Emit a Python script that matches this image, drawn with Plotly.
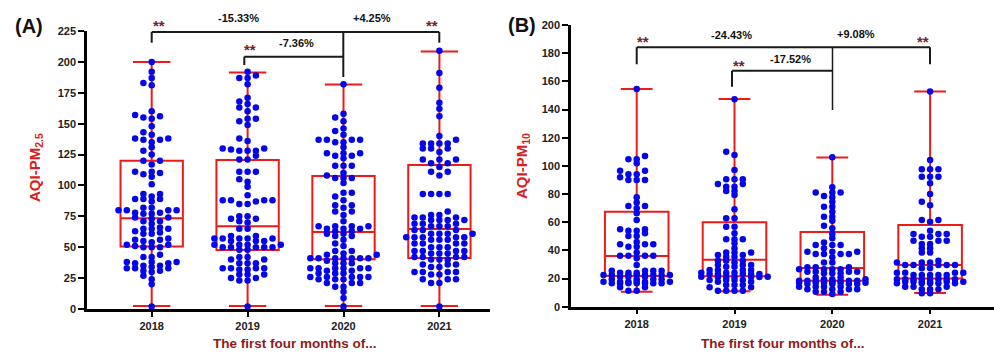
import plotly.graph_objects as go

# ---------------- data ----------------
years = ["2018", "2019", "2020", "2021"]

# Panel A: AQI-PM2.5
pm25_2018 = [200, 192, 187, 183, 181, 160, 157, 156, 155, 154, 148, 143, 141, 138, 138, 137, 137, 135, 131, 128, 125,
             120, 120, 117, 111, 111, 110, 109, 107, 101, 93, 93, 91, 89, 89, 89, 87, 82, 82, 80, 80, 80, 80, 78, 78,
             77, 77, 74, 74, 73, 71, 71, 69, 66, 65, 65, 65, 63, 62, 61, 61, 57, 56, 56, 55, 54, 52, 52, 51, 50, 50,
             50, 44, 42, 42, 38, 38, 38, 37, 37, 35, 35, 34, 33, 33, 33, 31, 31, 30, 27, 24, 20, 2]
pm25_2019 = [192, 189, 187, 187, 182, 171, 168, 166, 163, 163, 160, 154, 154, 152, 149, 138, 136, 130, 130, 129, 128,
             128, 128, 124, 121, 121, 111, 111, 111, 105, 103, 99, 92, 88, 88, 88, 88, 87, 85, 85, 75, 75, 73, 73, 71,
             70, 65, 65, 59, 59, 57, 57, 57, 57, 57, 55, 55, 55, 52, 52, 52, 52, 50, 50, 50, 50, 50, 48, 48, 42, 42,
             40, 40, 37, 37, 37, 33, 33, 33, 33, 32, 32, 28, 28, 28, 25, 25, 23, 23, 2]
pm25_2020 = [182, 158, 155, 152, 146, 144, 141, 137, 137, 137, 137, 135, 135, 131, 126, 126, 126, 124, 124, 122, 116,
             116, 116, 110, 108, 106, 106, 106, 102, 94, 94, 91, 88, 84, 84, 82, 79, 79, 76, 71, 67, 67, 67, 67, 65,
             65, 65, 63, 63, 61, 61, 59, 59, 56, 53, 51, 47, 47, 45, 44, 44, 41, 41, 41, 41, 41, 41, 41, 39, 37, 37,
             37, 33, 33, 33, 33, 33, 33, 31, 31, 29, 29, 29, 26, 26, 26, 26, 26, 24, 24, 24, 21, 21, 21, 18, 18, 14,
             9, 2]
pm25_2021 = [209, 191, 179, 167, 162, 156, 140, 137, 134, 134, 134, 134, 130, 130, 130, 127, 121, 121, 121, 118, 118,
             115, 111, 111, 108, 93, 93, 93, 93, 79, 76, 76, 74, 74, 74, 72, 72, 72, 72, 69, 69, 69, 67, 67, 67, 64,
             64, 64, 61, 61, 61, 61, 58, 58, 58, 58, 58, 56, 56, 56, 53, 53, 53, 53, 50, 50, 50, 47, 47, 47, 47, 45,
             45, 45, 42, 42, 42, 42, 40, 40, 40, 36, 36, 36, 34, 34, 30, 30, 30, 30, 28, 28, 24, 24, 24, 21, 21, 2]

pm25_q1 = [50.5, 47.8, 40.2, 41.3]
pm25_median = [73.5, 67.0, 62.3, 64.8]
pm25_q3 = [120.0, 120.5, 107.7, 116.6]
pm25_min = [2.4, 2.4, 2.4, 2.4]
pm25_max = [200, 191.5, 181.6, 208.4]

# Panel B: AQI-PM10
pm10_2018 = [154.6, 107, 104.7, 104.7, 101.8, 96.6, 96.6, 94, 94, 91.9, 90, 90, 90, 77.7, 73.9, 71.5, 71.5, 69.9,
             66.3, 61.6, 55, 55, 54, 54, 52.1, 50.2, 50.2, 46, 44.3, 44.3, 44.3, 42.6, 42.6, 38.4, 36.2, 36.2, 36.2,
             36.2, 34.4, 29.6, 25.6, 25.6, 25.6, 25.6, 24.1, 24.1, 24.1, 22.5, 22.5, 22.5, 22.5, 22.5, 22.5, 22.5,
             22.5, 21.3, 21.3, 21.3, 19.5, 19.5, 19.5, 19.5, 17.8, 17.8, 17.8, 17.8, 17.8, 17.8, 16.6, 16.6, 16.6,
             16.6, 16.6, 16.6, 16.6, 13.8, 13.8, 11.4, 11.4]
pm10_2019 = [147.3, 110, 107.7, 97, 90.5, 90.5, 90.5, 87.1, 87.1, 85.2, 85.2, 82.2, 82.2, 79.3, 69.2, 62.8, 62.8,
             56.8, 56.8, 52.1, 47.9, 47.9, 47.9, 45, 41.5, 38.4, 38.4, 38.4, 36.7, 36.7, 35.5, 35.5, 32.7, 32.7, 32.7,
             31.3, 29.6, 29.6, 29.6, 28.4, 28.4, 26.1, 26.1, 26.1, 26.1, 24.1, 24.1, 24.1, 23.2, 23.2, 23.2, 23.2,
             23.2, 21.3, 21.3, 21.3, 21.3, 21.0, 21.0, 21.0, 19, 19, 19, 19, 17.8, 17.8, 15.4, 15.4, 15.4, 13.8, 13.8,
             11.4, 11.4, 11.4, 11.4]
pm10_2020 = [106.1, 84.8, 81, 81, 81, 78.6, 77.7, 74.6, 71, 71, 67.5, 63.9, 63.9, 61.1, 57.5, 55.7, 51.6, 48.6, 45.5,
             43.8, 43.8, 43.8, 41.5, 39.1, 39.1, 39.1, 37.4, 37.4, 37.4, 37.4, 35.1, 31.3, 31.3, 28, 28, 28, 26.6,
             26.6, 26.6, 26.6, 24.9, 24.9, 24.9, 24.9, 23.7, 23.7, 23.7, 20.9, 20.9, 19.5, 19.5, 19.5, 18.5, 18.5,
             18.5, 18.5, 18.5, 18.5, 18.5, 18.5, 17, 17, 17, 17, 17, 17, 16.1, 16.1, 16.1, 16.1, 14.2, 14.2, 14.2,
             14.2, 12.4, 12.4, 12.4, 12.4, 10.7, 10.7, 10.7, 9]
pm10_2021 = [152.7, 104.2, 97.6, 97.6, 97.6, 92.3, 92.3, 92.3, 87.6, 80, 74.6, 72, 61.6, 61.6, 60.4, 54, 51.6, 51.6,
             51.6, 49.7, 49.7, 46.9, 46.9, 46.9, 44.5, 44.5, 41.5, 41.5, 38.4, 38.4, 32.7, 31.3, 31.3, 31.3, 29.6,
             29.6, 29.6, 29.6, 29.6, 27.3, 27.3, 24.1, 24.1, 24.1, 24.1, 22.5, 22.5, 22.5, 22.5, 22.5, 19.5, 19.5,
             19.5, 19.5, 19.5, 19.5, 19.5, 19.5, 17.8, 17.8, 17.8, 17.8, 17.8, 17.8, 16.6, 16.6, 16.6, 16.6, 16.6,
             14.2, 14.2, 14.2, 12.4, 12.4, 12.4, 9.5, 9.5]

pm10_q1 = [21.8, 21.6, 18.5, 20.0]
pm10_median = [36.0, 33.4, 27.5, 29.6]
pm10_q3 = [67.5, 60.0, 53.0, 58.0]
pm10_min = [10.7, 11.0, 8.5, 9.7]
pm10_max = [154.6, 147.5, 106.0, 152.7]

# ---------------- style ----------------
W, H = 994, 353
BOX_RED = "#ee1a1a"
DOT_BLUE = "#0505ea"
STAR = "#7a2030"
YT_RED = "#d81e1e"
XT_RED = "#8e1b1b"
FONT = "Arial, Liberation Sans, sans-serif"

# pixel geometry of panels (plot areas)
A = dict(x0=87, x1=490, ytop=31, ybot=309, ymax=225, cat0=151.7, step=95.9, dy=4.6, maxc=4)
B = dict(x0=571, x1=994, ytop=25, ybot=306.7, ymax=200, cat0=636.7, step=97.8, dy=3.9, maxc=4)
for P in (A, B):
    P["ppu"] = (P["ybot"] - P["ytop"]) / P["ymax"]
    P["xr"] = [(P["x0"] - P["cat0"]) / P["step"], (P["x1"] - P["cat0"]) / P["step"]]


def swarm(vals, ppu, step, min_dy, maxc, col_px=8.3):
    order = sorted(range(len(vals)), key=lambda i: vals[i])
    placed = {}
    offs = [0.0] * len(vals)
    cands = [0]
    for j in range(1, maxc + 1):
        cands += [-j, j]
    for i in order:
        y = vals[i] * ppu
        best, best_gap = None, -1
        for c in cands:
            gap = min([abs(y - yy) for yy in placed.get(c, [])] + [99])
            if gap >= min_dy:
                best = c
                break
            if gap > best_gap:
                best, best_gap = c, gap
        placed.setdefault(best, []).append(y)
        offs[i] = best * col_px / step
    return offs


fig = go.Figure()

panels = [
    (A, "x", "y", [pm25_2018, pm25_2019, pm25_2020, pm25_2021], pm25_q1, pm25_median, pm25_q3, pm25_min, pm25_max, 0.6),
    (B, "x2", "y2", [pm10_2018, pm10_2019, pm10_2020, pm10_2021], pm10_q1, pm10_median, pm10_q3, pm10_min, pm10_max, 0.5),
]

for P, xa, ya, groups, q1, med, q3, lo, hi, ww in panels:
    fig.add_trace(go.Box(
        x=[0, 1, 2, 3], q1=q1, median=med, q3=q3, lowerfence=lo, upperfence=hi,
        width=0.65, whiskerwidth=ww, boxpoints=False,
        line=dict(color=BOX_RED, width=2), fillcolor="rgba(0,0,0,0)",
        xaxis=xa, yaxis=ya, showlegend=False, hoverinfo="skip",
    ))
    for gi, vals in enumerate(groups):
        offs = swarm(vals, P["ppu"], P["step"], P["dy"], P["maxc"])
        fig.add_trace(go.Scatter(
            x=[gi + o for o in offs], y=vals, mode="markers",
            marker=dict(color=DOT_BLUE, size=6.5, line=dict(width=0)),
            cliponaxis=False, xaxis=xa, yaxis=ya, showlegend=False, hoverinfo="skip",
        ))

axis_common = dict(showgrid=False, zeroline=False, showline=True, linecolor="black", linewidth=2.5,
                   ticks="outside", tickwidth=2, tickcolor="black", automargin=False,
                   tickfont=dict(family=FONT, size=11, color="#222", weight="bold"))

fig.update_layout(
    template="none",
    width=W, height=H, margin=dict(l=0, r=0, t=0, b=0, pad=0, autoexpand=False),
    paper_bgcolor="white", plot_bgcolor="white", showlegend=False,
    xaxis=dict(domain=[A["x0"] / W, A["x1"] / W], range=A["xr"], tickvals=[0, 1, 2, 3], ticktext=years,
               anchor="y", ticklen=5, **axis_common),
    yaxis=dict(domain=[(H - A["ybot"]) / H, (H - A["ytop"]) / H], range=[0, 225], tickvals=list(range(0, 226, 25)),
               anchor="x", ticklen=6, **axis_common),
    xaxis2=dict(domain=[B["x0"] / W, B["x1"] / W], range=B["xr"], tickvals=[0, 1, 2, 3], ticktext=years,
                anchor="y2", ticklen=5, **axis_common),
    yaxis2=dict(domain=[(H - B["ybot"]) / H, (H - B["ytop"]) / H], range=[0, 200], tickvals=list(range(0, 201, 20)),
                anchor="x2", ticklen=6, **axis_common),
)


def py(P, ypx):
    return (P["ybot"] - ypx) / P["ppu"]


def px(P, xpx):
    return (xpx - P["cat0"]) / P["step"]


shapes = []


def seg(P, xa, ya, xp0, yp0, xp1, yp1, w=2):
    shapes.append(dict(type="line", xref=xa, yref=ya, x0=px(P, xp0), y0=py(P, yp0), x1=px(P, xp1), y1=py(P, yp1),
                       line=dict(color="#1a1a1a", width=w)))


# Panel A brackets
seg(A, "x", "y", 151.7, 32, 439.3, 32)
seg(A, "x", "y", 151.7, 32, 151.7, 42.7)
seg(A, "x", "y", 439.3, 32, 439.3, 42.7)
seg(A, "x", "y", 343.3, 32, 343.3, 77)
seg(A, "x", "y", 244.3, 56.7, 343.3, 56.7)
seg(A, "x", "y", 244.3, 56.7, 244.3, 65)
# Panel B brackets
seg(B, "x2", "y2", 636.7, 47.3, 930, 47.3)
seg(B, "x2", "y2", 636.7, 47.3, 636.7, 64.3)
seg(B, "x2", "y2", 930, 47.3, 930, 64.3)
seg(B, "x2", "y2", 832.5, 47.3, 832.5, 110, 1.5)
seg(B, "x2", "y2", 732, 70.7, 832.5, 70.7)
seg(B, "x2", "y2", 732, 70.7, 732, 86.7)
fig.update_layout(shapes=shapes)

ann = []


def paper(text, xp, yp, size, color, angle=0):
    ann.append(dict(xref="paper", yref="paper", x=xp / W, y=(H - yp) / H, text=text, showarrow=False,
                    textangle=angle, font=dict(family=FONT, size=size, color=color, weight="bold"),
                    xanchor="center", yanchor="middle"))


# significance asterisks
for xp, yp in [(159, 25), (250, 49), (432, 26), (643, 41.7), (739, 65.7), (923, 41.3)]:
    paper("**", xp, yp, 15, STAR)

paper("-15.33%", 238, 17.5, 11, "#111")
paper("+4.25%", 372, 18, 11, "#111")
paper("-7.36%", 296, 43, 11, "#111")
paper("-24.43%", 731, 34.7, 11, "#111")
paper("+9.08%", 856, 33.7, 11, "#111")
paper("-17.52%", 790, 59.3, 11, "#111")

paper("(A)", 29, 26, 20, "#111")
paper("(B)", 521.5, 25, 20, "#111")
paper("AQI-PM<sub>2.5</sub>", 35, 168, 15, YT_RED, -90)
paper("AQI-PM<sub>10</sub>", 522, 166, 15, YT_RED, -90)
paper("The first four months of...", 295, 343, 13.5, XT_RED)
paper("The first four months of...", 783, 343, 13.5, XT_RED)

fig.update_layout(annotations=ann)

fig.write_html("out.html", config={"displayModeBar": False},
               post_script="document.body.style.margin='0';document.body.style.overflow='hidden';")
